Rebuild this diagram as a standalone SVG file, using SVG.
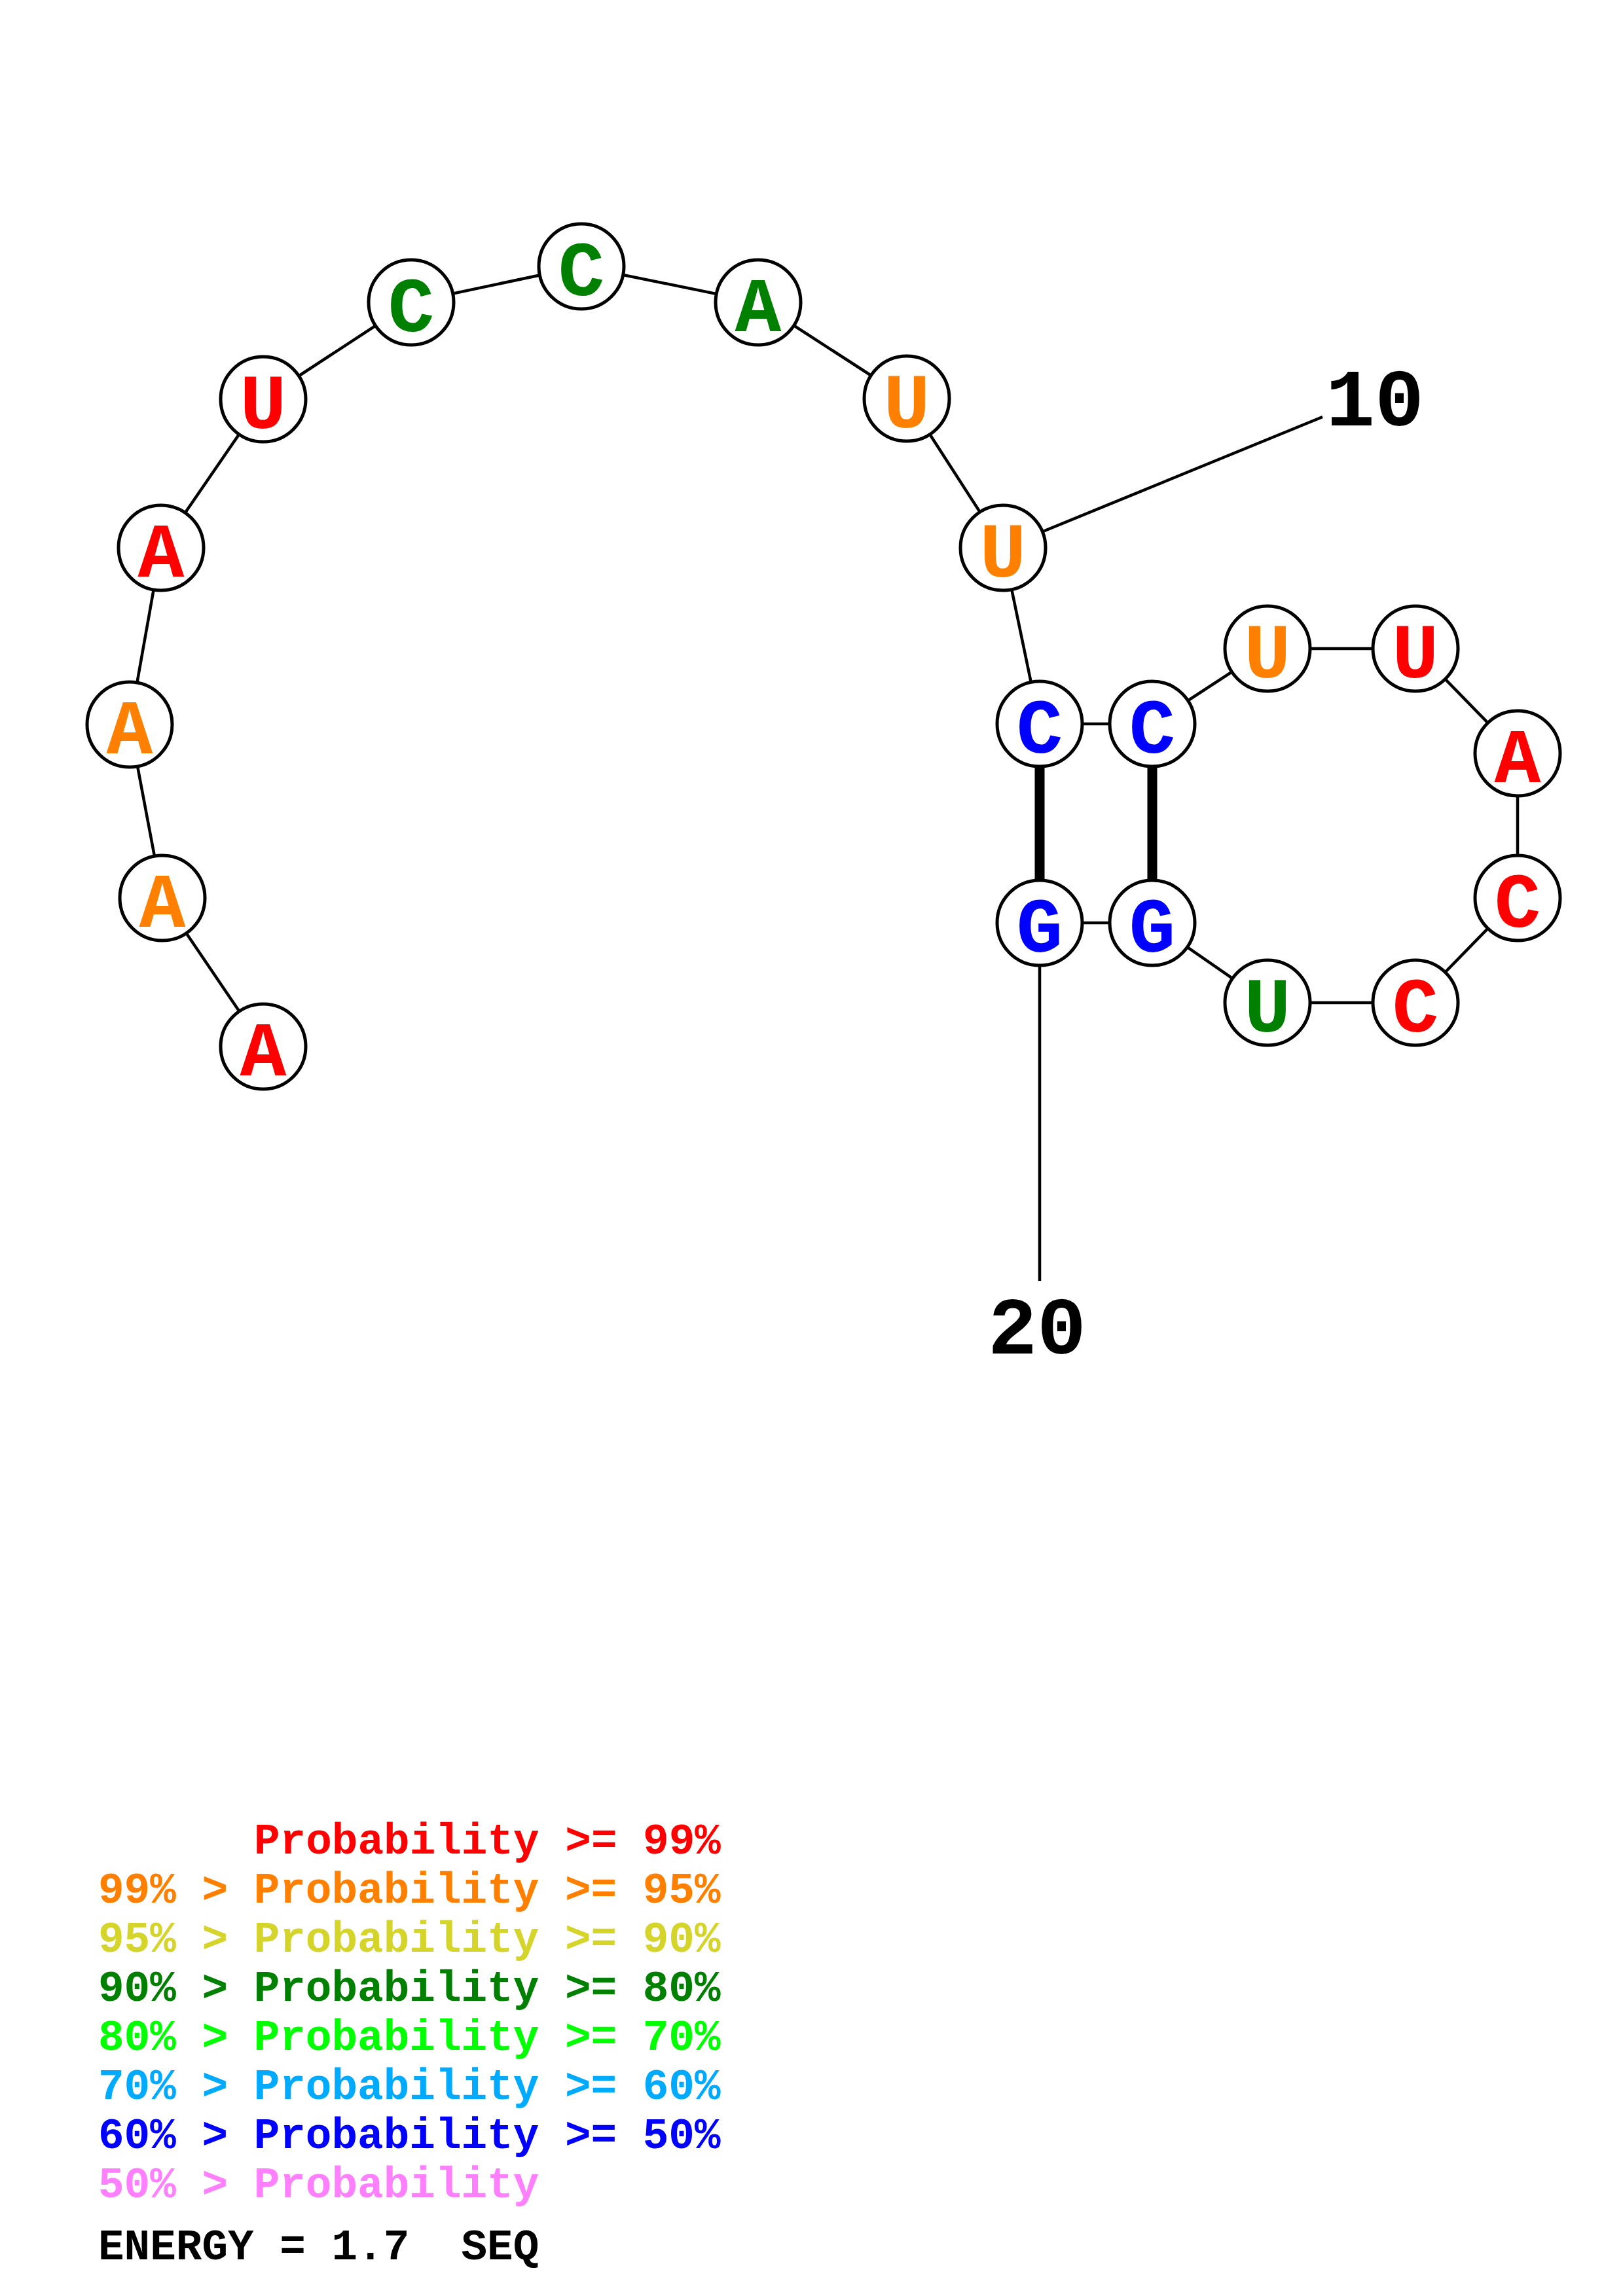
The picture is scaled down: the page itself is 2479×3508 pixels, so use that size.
<svg xmlns="http://www.w3.org/2000/svg" width="2479" height="3508" viewBox="0 0 2479 3508">
<style>
.bb{stroke:#000;stroke-width:4.5;fill:none}
.bp{stroke:#000;stroke-width:15;fill:none}
.nc{fill:#fff;stroke:#000;stroke-width:5}
.nt{font-family:"Liberation Mono","DejaVu Sans Mono",monospace;font-weight:bold;font-size:118px;text-anchor:middle}
.lb{font-family:"Liberation Mono","DejaVu Sans Mono",monospace;font-weight:bold;font-size:125px;text-anchor:middle;fill:#000}
.lg{font-family:"Liberation Mono","DejaVu Sans Mono",monospace;font-weight:bold;font-size:66px;white-space:pre}
.r{fill:#FF0000}.o{fill:#FF8000}.y{fill:#D4D42A}.g{fill:#008000}.lgr{fill:#00FF00}.lb2{fill:#00AAFF}.b{fill:#0000FF}.p{fill:#FF80FF}.k{fill:#000}
</style>
<rect width="2479" height="3508" fill="#fff"/>
<g id="connectors">
<polyline class="bb" points="402,1599 248,1372 198,1107 246,837 402,610 628,462 888,407 1158,462 1385,609 1532,837 1588,1106 1760,1106 1936,991 2162,991 2318,1151 2318,1372 2162,1532 1936,1532 1760,1410 1588,1410"/>
<line class="bp" x1="1588" y1="1106" x2="1588" y2="1410"/>
<line class="bp" x1="1760" y1="1106" x2="1760" y2="1410"/>
<line class="bb" x1="1532" y1="837" x2="2020" y2="637"/>
<line class="bb" x1="1588" y1="1410" x2="1588" y2="1957"/>
</g>
<g id="n1"><circle class="nc" cx="402" cy="1599" r="65"/><text class="nt r" x="402" y="1643">A</text></g>
<g id="n2"><circle class="nc" cx="248" cy="1372" r="65"/><text class="nt o" x="248" y="1416">A</text></g>
<g id="n3"><circle class="nc" cx="198" cy="1107" r="65"/><text class="nt o" x="198" y="1151">A</text></g>
<g id="n4"><circle class="nc" cx="246" cy="837" r="65"/><text class="nt r" x="246" y="881">A</text></g>
<g id="n5"><circle class="nc" cx="402" cy="610" r="65"/><text class="nt r" x="402" y="654">U</text></g>
<g id="n6"><circle class="nc" cx="628" cy="462" r="65"/><text class="nt g" x="628" y="506">C</text></g>
<g id="n7"><circle class="nc" cx="888" cy="407" r="65"/><text class="nt g" x="888" y="451">C</text></g>
<g id="n8"><circle class="nc" cx="1158" cy="462" r="65"/><text class="nt g" x="1158" y="506">A</text></g>
<g id="n9"><circle class="nc" cx="1385" cy="609" r="65"/><text class="nt o" x="1385" y="653">U</text></g>
<g id="n10"><circle class="nc" cx="1532" cy="837" r="65"/><text class="nt o" x="1532" y="881">U</text></g>
<g id="n11"><circle class="nc" cx="1588" cy="1106" r="65"/><text class="nt b" x="1588" y="1150">C</text></g>
<g id="n12"><circle class="nc" cx="1760" cy="1106" r="65"/><text class="nt b" x="1760" y="1150">C</text></g>
<g id="n13"><circle class="nc" cx="1936" cy="991" r="65"/><text class="nt o" x="1936" y="1035">U</text></g>
<g id="n14"><circle class="nc" cx="2162" cy="991" r="65"/><text class="nt r" x="2162" y="1035">U</text></g>
<g id="n15"><circle class="nc" cx="2318" cy="1151" r="65"/><text class="nt r" x="2318" y="1195">A</text></g>
<g id="n16"><circle class="nc" cx="2318" cy="1372" r="65"/><text class="nt r" x="2318" y="1416">C</text></g>
<g id="n17"><circle class="nc" cx="2162" cy="1532" r="65"/><text class="nt r" x="2162" y="1576">C</text></g>
<g id="n18"><circle class="nc" cx="1936" cy="1532" r="65"/><text class="nt g" x="1936" y="1576">U</text></g>
<g id="n19"><circle class="nc" cx="1760" cy="1410" r="65"/><text class="nt b" x="1760" y="1454">G</text></g>
<g id="n20"><circle class="nc" cx="1588" cy="1410" r="65"/><text class="nt b" x="1588" y="1454">G</text></g>
<g id="labels">
<text class="lb" x="2100" y="650">10</text>
<text class="lb" x="1584" y="2068">20</text>
</g>
<g id="legend">
<text class="lg r" x="388" y="2832">Probability &gt;= 99%</text>
<text class="lg o" x="150" y="2907">99% &gt; Probability &gt;= 95%</text>
<text class="lg y" x="150" y="2982">95% &gt; Probability &gt;= 90%</text>
<text class="lg g" x="150" y="3057">90% &gt; Probability &gt;= 80%</text>
<text class="lg lgr" x="150" y="3132">80% &gt; Probability &gt;= 70%</text>
<text class="lg lb2" x="150" y="3207">70% &gt; Probability &gt;= 60%</text>
<text class="lg b" x="150" y="3282">60% &gt; Probability &gt;= 50%</text>
<text class="lg p" x="150" y="3357">50% &gt; Probability</text>
<text class="lg k" x="150" y="3452">ENERGY = 1.7  SEQ</text>
</g>
</svg>
